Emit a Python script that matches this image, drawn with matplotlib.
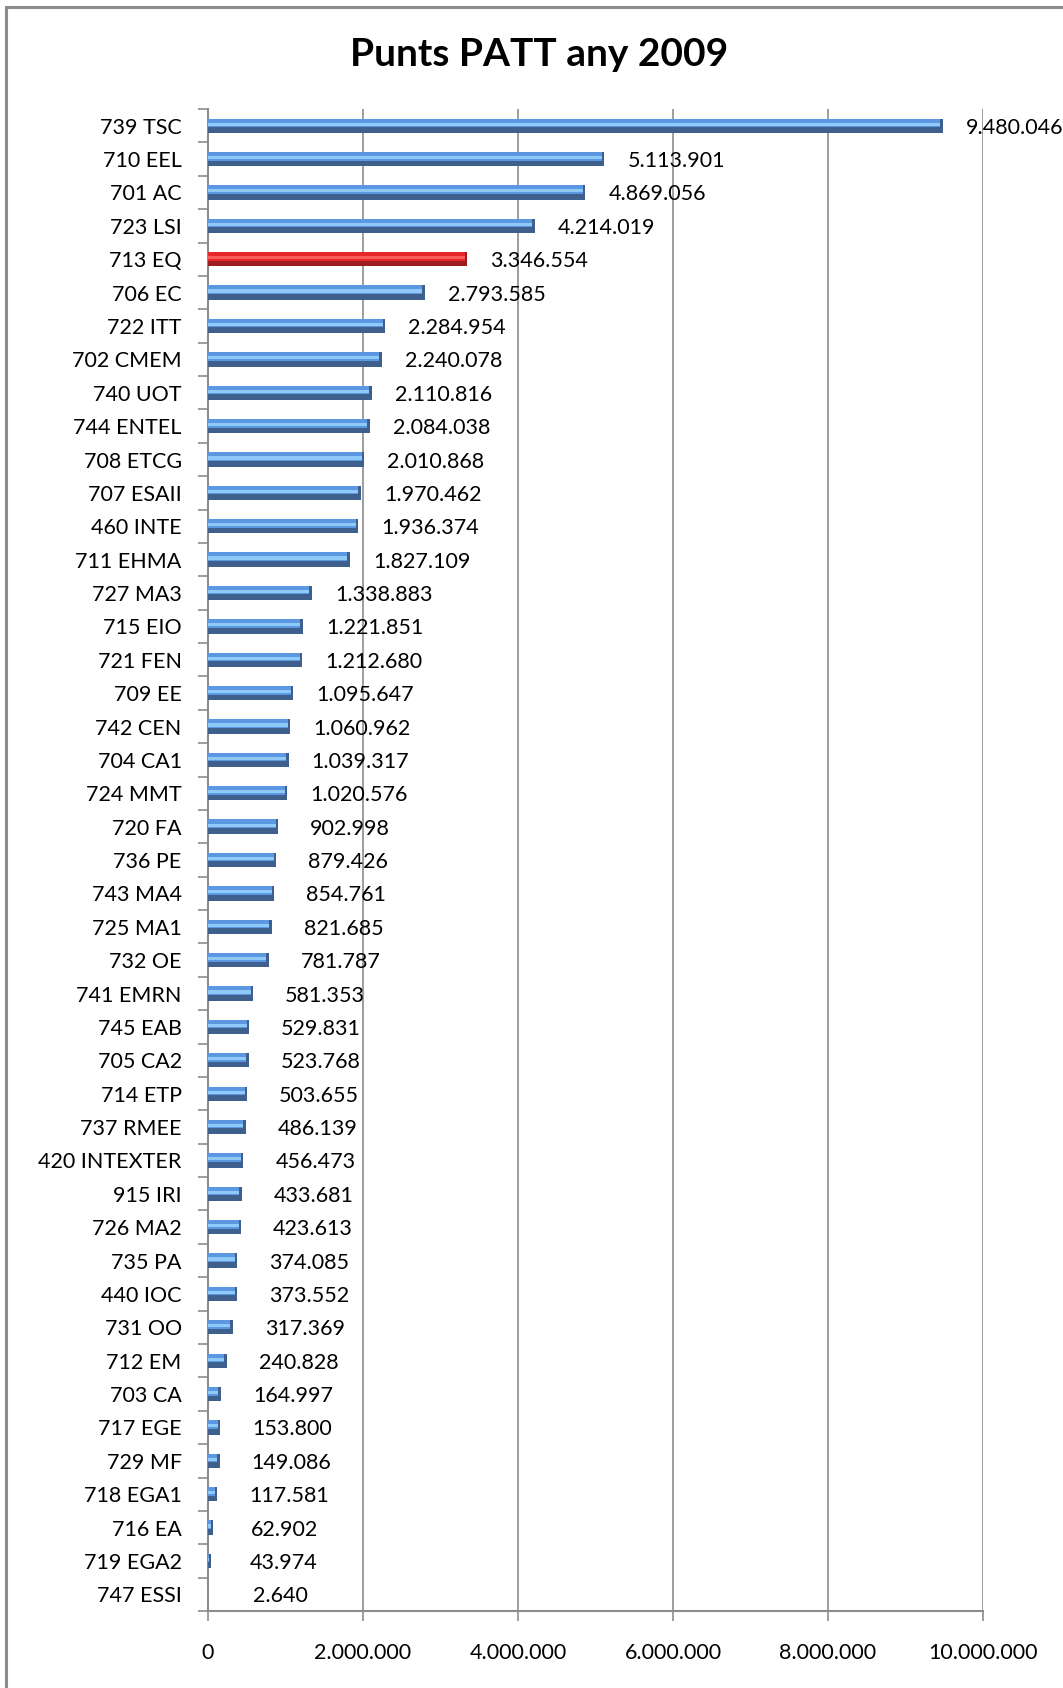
import numpy as np
import matplotlib
matplotlib.use("Agg")
import matplotlib.pyplot as plt
from matplotlib.ticker import FuncFormatter, FixedLocator
from matplotlib.patches import Rectangle

plt.rcParams['font.family'] = ['Lato', 'DejaVu Sans']

categories = [
    "739 TSC", "710 EEL", "701 AC", "723 LSI", "713 EQ", "706 EC", "722 ITT",
    "702 CMEM", "740 UOT", "744 ENTEL", "708 ETCG", "707 ESAII", "460 INTE",
    "711 EHMA", "727 MA3", "715 EIO", "721 FEN", "709 EE", "742 CEN", "704 CA1",
    "724 MMT", "720 FA", "736 PE", "743 MA4", "725 MA1", "732 OE", "741 EMRN",
    "745 EAB", "705 CA2", "714 ETP", "737 RMEE", "420 INTEXTER", "915 IRI",
    "726 MA2", "735 PA", "440 IOC", "731 OO", "712 EM", "703 CA", "717 EGE",
    "729 MF", "718 EGA1", "716 EA", "719 EGA2", "747 ESSI",
]
values = [
    9480046, 5113901, 4869056, 4214019, 3346554, 2793585, 2284954,
    2240078, 2110816, 2084038, 2010868, 1970462, 1936374,
    1827109, 1338883, 1221851, 1212680, 1095647, 1060962, 1039317,
    1020576, 902998, 879426, 854761, 821685, 781787, 581353,
    529831, 523768, 503655, 486139, 456473, 433681,
    423613, 374085, 373552, 317369, 240828, 164997, 153800,
    149086, 117581, 62902, 43974, 2640,
]
highlight = "713 EQ"
x_ticks = [0, 2000000, 4000000, 6000000, 8000000, 10000000]


def dots(v, pos=None):
    return f"{int(v):,}".replace(",", ".")


fig = plt.figure(figsize=(10.63, 16.88), dpi=100)
ax = fig.add_axes([0.1957, 0.0456, 0.7291, 0.8898])

y = np.arange(len(categories))
vals = np.array(values, dtype=float)
h = 0.43
cap = 30000

is_red = np.array([c == highlight for c in categories])
dark = np.where(is_red, "#9E1C1E", "#3F5F8C")
mid = np.where(is_red, "#E5262B", "#5C98E2")
light = np.where(is_red, "#FF5A5A", "#8FC9F8")
top = y - h / 2
inner = np.maximum(vals - cap, 0)

ax.barh(y, vals, height=h, color=dark, zorder=3)
ax.barh(top + 0.3 * h, inner, height=0.6 * h, color=mid, zorder=4)
ax.barh(top + 0.39 * h, inner, height=0.22 * h, color=light, zorder=5)

for yi, v in zip(y, values):
    ax.annotate(dots(v), (v, yi), xytext=(72, -2), textcoords="offset pixels",
                ha="center", va="center", fontsize=15.5, color="black",
                zorder=6)

ax.set_xlim(0, 10000000)
ax.set_ylim(len(categories) - 0.5, -0.5)
ax.set_xticks(x_ticks)
ax.xaxis.set_major_formatter(FuncFormatter(dots))
ax.set_yticks(y)
ax.set_yticklabels(categories)
ax.yaxis.set_minor_locator(FixedLocator(np.arange(len(categories) + 1) - 0.5))

ax.grid(axis="x", color="#8C8C8C", linewidth=1.2, zorder=0)
for side in ["top", "right"]:
    ax.spines[side].set_visible(False)
for side in ["left", "bottom"]:
    ax.spines[side].set_color("#8C8C8C")
    ax.spines[side].set_linewidth(1.5)

ax.tick_params(axis="y", which="major", length=0, pad=19, labelsize=15.5)
ax.tick_params(axis="y", which="minor", length=7, color="#8C8C8C", width=1.2)
ax.tick_params(axis="x", which="major", length=7, color="#8C8C8C", width=1.2,
               pad=16, labelsize=15.5)

fig.text(0.507, 0.968, "Punts PATT any 2009", ha="center", va="center",
         fontsize=28, fontweight="bold")

fig.patches.append(Rectangle((0.006, -0.1), 1.2, 1.096, transform=fig.transFigure,
                             fill=False, edgecolor="#8C8C8C", linewidth=2.2))

fig.savefig("out.png", dpi=100)
